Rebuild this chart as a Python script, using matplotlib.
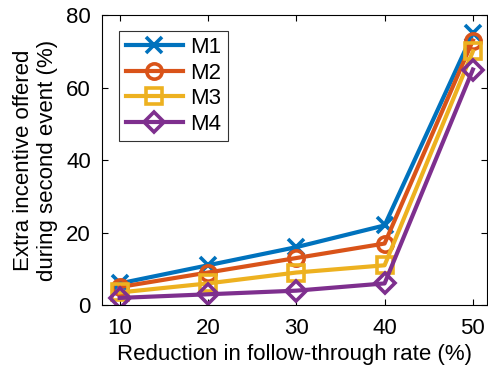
import matplotlib.pyplot as plt

plt.rcParams.update({"font.family": "Liberation Sans", "font.size": 16})

rates = [10, 20, 30, 40, 50]
m1 = [6, 11, 16, 22, 75]
m2 = [5, 9, 13, 17, 73]
m3 = [3.5, 6, 9, 11, 70]
m4 = [2, 3, 4, 6, 65]

series = [("M1", m1, "#0072BD", "x"),
          ("M2", m2, "#D95319", "o"),
          ("M3", m3, "#EDB120", "s"),
          ("M4", m4, "#7E2F8E", "D")]


def main():
    fig = plt.figure(figsize=(4.88, 3.69), dpi=100)
    ax = fig.add_axes([0.209, 0.173, 0.789, 0.786])

    for name, vals, color, mk in series:
        size = 10 if mk == "D" else 11
        ax.plot(rates, vals, marker=mk, color=color, linewidth=3,
                markersize=size, markerfacecolor="none",
                markeredgewidth=2.6, label=name)

    ax.set_xlim(8, 51.6)
    ax.set_ylim(0, 80)
    ax.set_xticks(rates)
    ax.set_yticks([0, 20, 40, 60, 80])
    ax.tick_params(direction="in", top=True, right=True, length=4,
                   labelsize=16)
    ax.tick_params(axis="x", pad=9)
    ax.tick_params(axis="y", pad=8)
    ax.set_xlabel("Reduction in follow-through rate (%)", fontsize=16,
                  labelpad=4)
    ax.set_ylabel("Extra incentive offered\nduring second event (%)",
                  fontsize=16, labelpad=6)

    leg = ax.legend(loc="upper left", fancybox=False, edgecolor="black",
                    fontsize=16, handlelength=2.6, borderpad=0.3,
                    labelspacing=0.2, handletextpad=0.3,
                    bbox_to_anchor=(0.015, 0.985))
    leg.get_frame().set_linewidth(0.8)

    fig.savefig("out.png", dpi=100)


if __name__ == "__main__":
    main()
